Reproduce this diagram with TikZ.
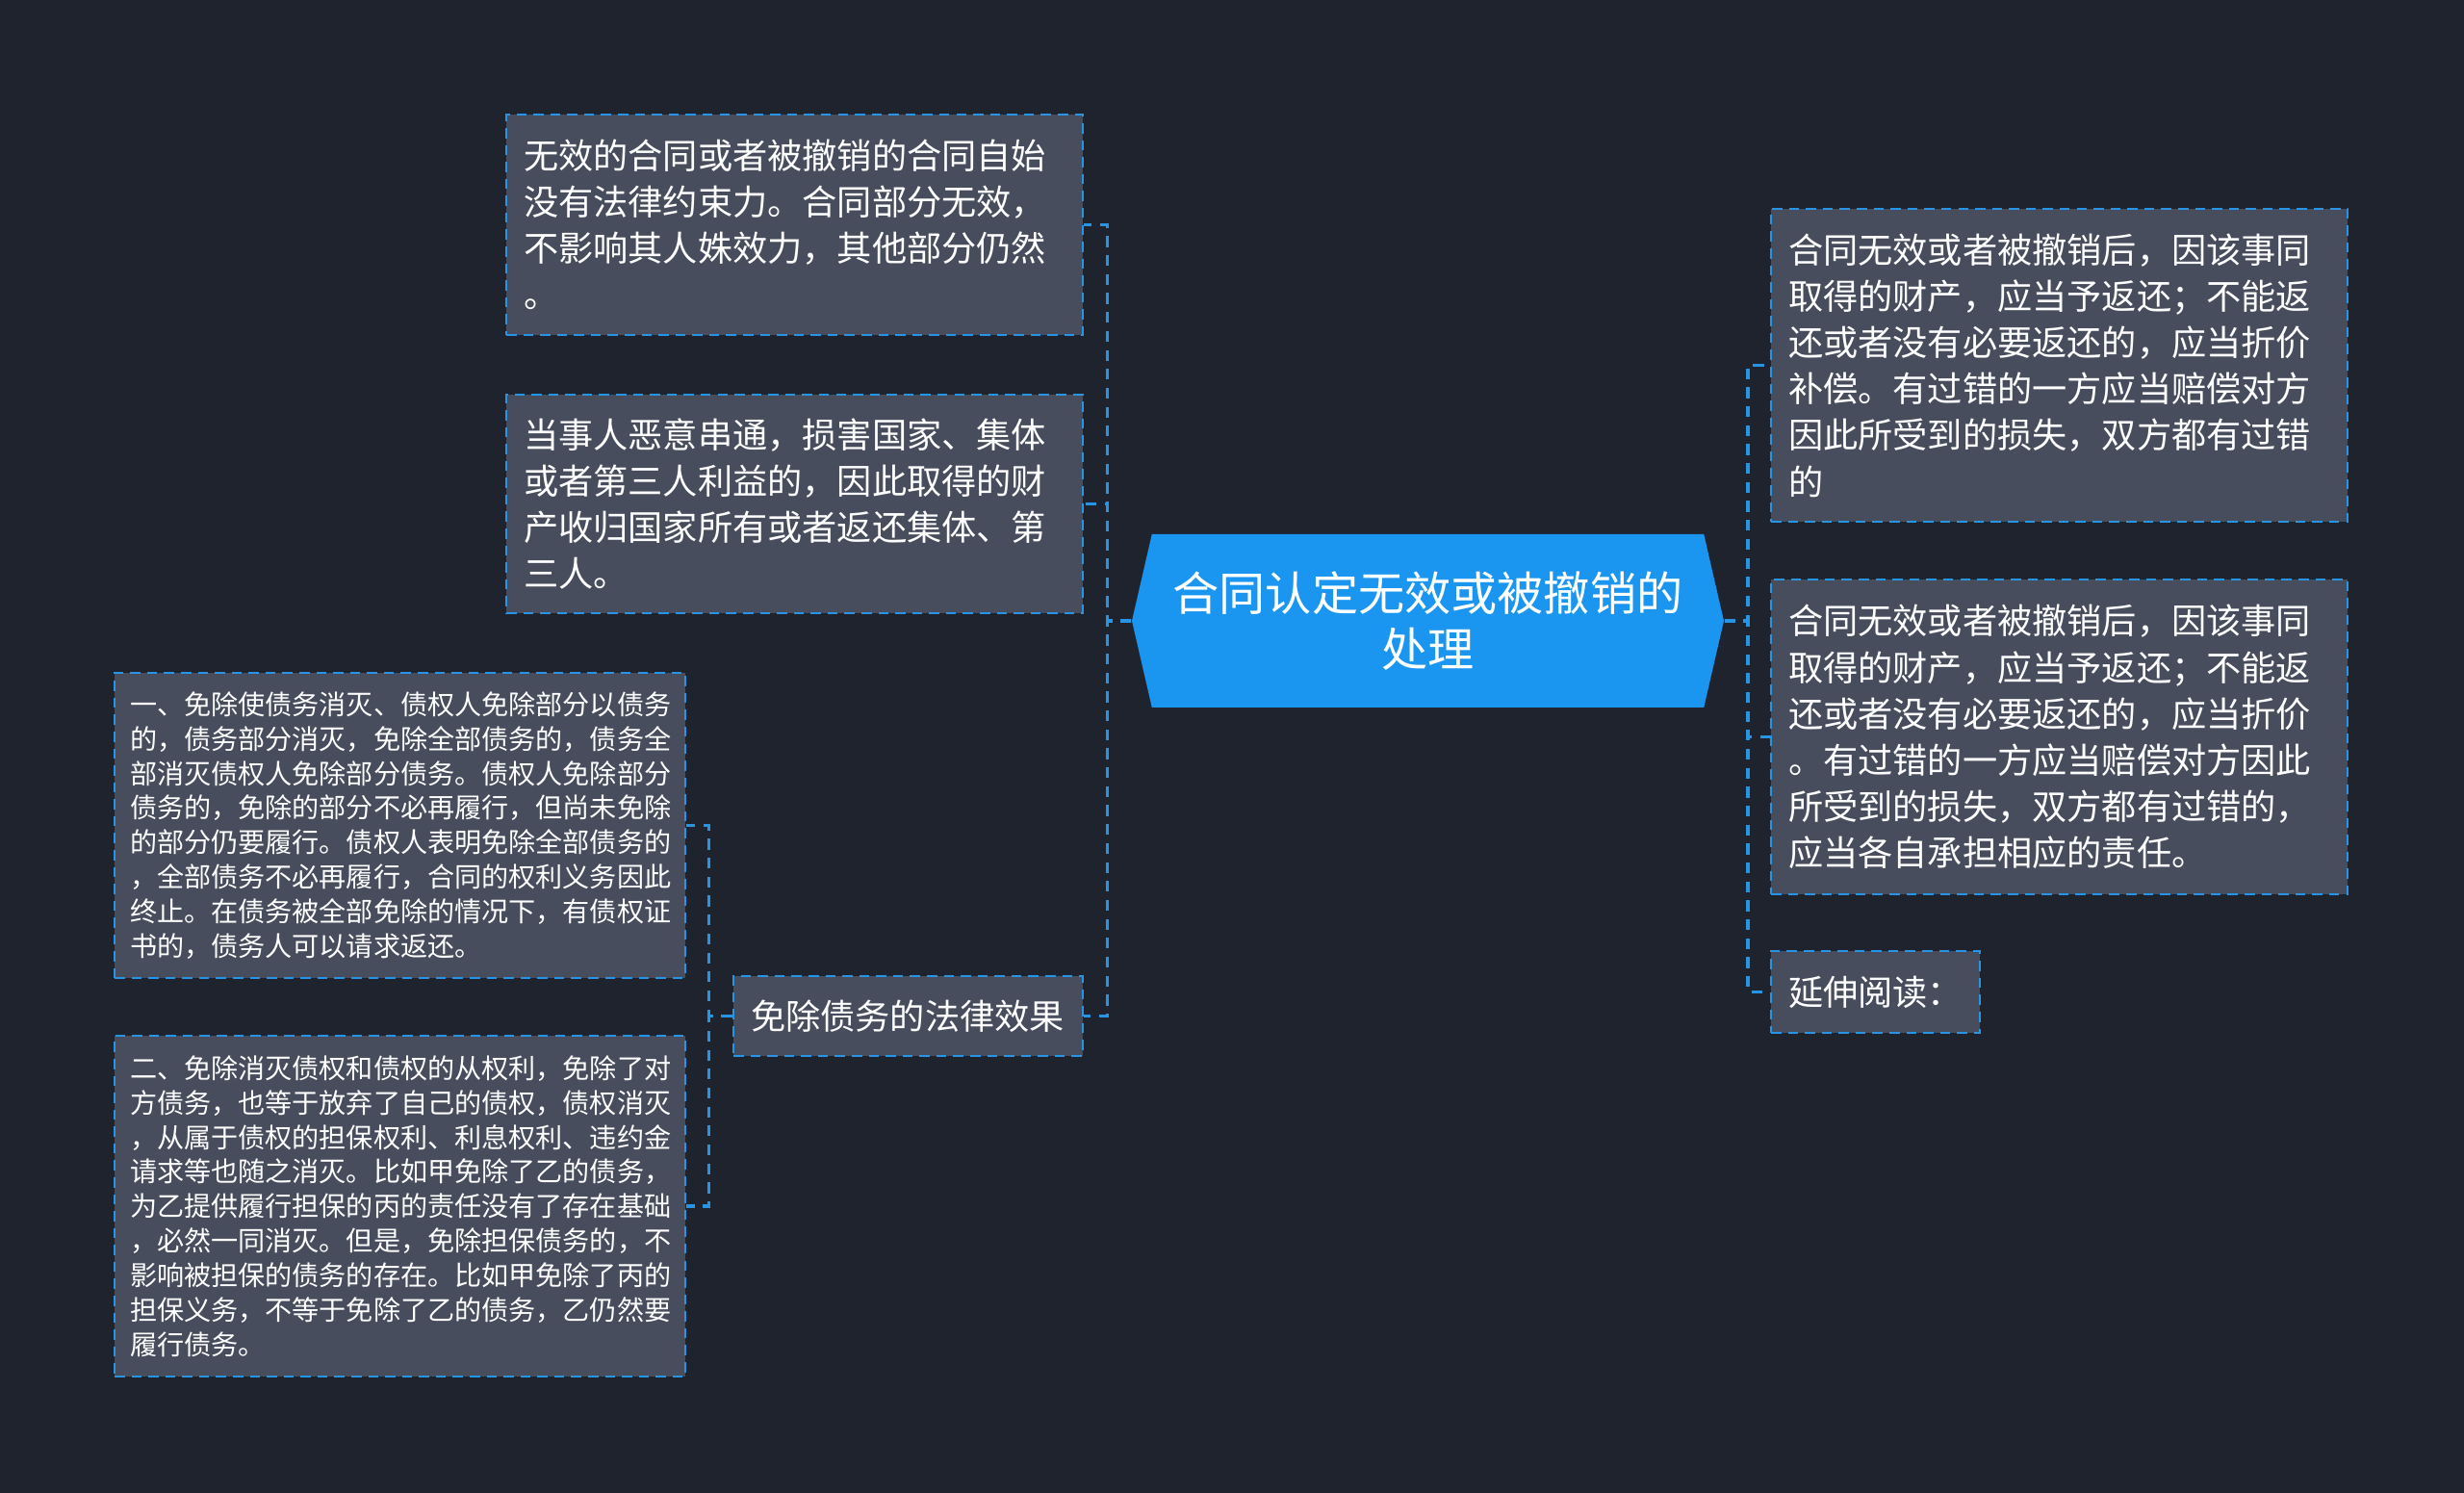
\documentclass[tikz,border=0pt]{standalone}
\usepackage{fontspec}
\setmainfont{Noto Sans CJK SC}
\usetikzlibrary{shapes.symbols}
\definecolor{bgcol}{HTML}{1F232E}
\definecolor{boxcol}{HTML}{474D5C}
\definecolor{linecol}{HTML}{2894E4}
\definecolor{rootcol}{HTML}{1A96F0}
\begin{document}
\begin{tikzpicture}[
    leaf/.style={rectangle, draw=linecol, fill=boxcol, line width=0.8pt,
      dash pattern=on 3pt off 2pt, text=white, align=left,
      inner xsep=0.18cm, inner ysep=0pt,
      font=\fontsize{10.3pt}{13.7pt}\selectfont},
    small/.style={leaf, inner xsep=0.16cm, font=\fontsize{8pt}{10.2pt}\selectfont},
    main/.style={shape=signal, signal to=west and east, signal pointer angle=154,
      fill=rootcol, text=white, align=center, inner sep=0pt,
      font=\fontsize{13.7pt}{16.7pt}\selectfont},
    link/.style={draw=linecol, line width=1pt, dash pattern=on 3.2pt off 2.4pt}
  ]
  \fill[bgcol] (0,0) rectangle (25.6,15.51);
  \useasboundingbox (0,0) rectangle (25.6,15.51);

  \node[main, minimum width=6.15cm, minimum height=1.8cm] (root) at (14.835, 9.06)
    {合同认定无效或被撤销的\\处理};

  \node[leaf, text width=5.63cm, minimum height=2.29cm] (void) at (8.255, 13.175)
    {无效的合同或者被撤销的合同自始\\没有法律约束力。合同部分无效，\\不影响其人姝效力，其他部分仍然\\。};
  \node[leaf, text width=5.63cm, minimum height=2.27cm] (collude) at (8.255, 10.275)
    {当事人恶意串通，损害国家、集体\\或者第三人利益的，因此取得的财\\产收归国家所有或者返还集体、第\\三人。};
  \node[leaf, text width=3.27cm, minimum height=0.83cm] (waive) at (9.435, 4.955)
    {免除债务的法律效果};
  \node[small, text width=5.61cm, minimum height=3.17cm] (waiveone) at (4.155, 6.935)
    {一、免除使债务消灭、债权人免除部分以债务\\的，债务部分消灭，免除全部债务的，债务全\\部消灭债权人免除部分债务。债权人免除部分\\债务的，免除的部分不必再履行，但尚未免除\\的部分仍要履行。债权人表明免除全部债务的\\，全部债务不必再履行，合同的权利义务因此\\终止。在债务被全部免除的情况下，有债权证\\书的，债务人可以请求返还。};
  \node[small, text width=5.61cm, minimum height=3.54cm] (waivetwo) at (4.155, 2.98)
    {二、免除消灭债权和债权的从权利，免除了对\\方债务，也等于放弃了自己的债权，债权消灭\\，从属于债权的担保权利、利息权利、违约金\\请求等也随之消灭。比如甲免除了乙的债务，\\为乙提供履行担保的丙的责任没有了存在基础\\，必然一同消灭。但是，免除担保债务的，不\\影响被担保的债务的存在。比如甲免除了丙的\\担保义务，不等于免除了乙的债务，乙仍然要\\履行债务。};

  \node[leaf, text width=5.63cm, minimum height=3.25cm] (refundone) at (21.395, 11.715)
    {合同无效或者被撤销后，因该事同\\取得的财产，应当予返还；不能返\\还或者没有必要返还的，应当折价\\补偿。有过错的一方应当赔偿对方\\因此所受到的损失，双方都有过错\\的};
  \node[leaf, text width=5.63cm, minimum height=3.27cm] (refundtwo) at (21.395, 7.855)
    {合同无效或者被撤销后，因该事同\\取得的财产，应当予返还；不能返\\还或者没有必要返还的，应当折价\\。有过错的一方应当赔偿对方因此\\所受到的损失，双方都有过错的，\\应当各自承担相应的责任。};
  \node[leaf, text width=1.81cm, minimum height=0.85cm] (more) at (19.485, 5.205)
    {延伸阅读：};

  % left branches
  \draw[link] (root.west) -- ++(-0.25,0) |- (void.east);
  \draw[link] (root.west) -- ++(-0.25,0) |- (collude.east);
  \draw[link] (root.west) -- ++(-0.25,0) |- (waive.east);
  \draw[link] (waive.west) -- ++(-0.24,0) |- (waiveone.east);
  \draw[link] (waive.west) -- ++(-0.24,0) |- (waivetwo.east);
  % right branches
  \draw[link] (root.east) -- ++(0.245,0) |- (refundone.west);
  \draw[link] (root.east) -- ++(0.245,0) |- (refundtwo.west);
  \draw[link] (root.east) -- ++(0.245,0) |- (more.west);
\end{tikzpicture}
\end{document}
